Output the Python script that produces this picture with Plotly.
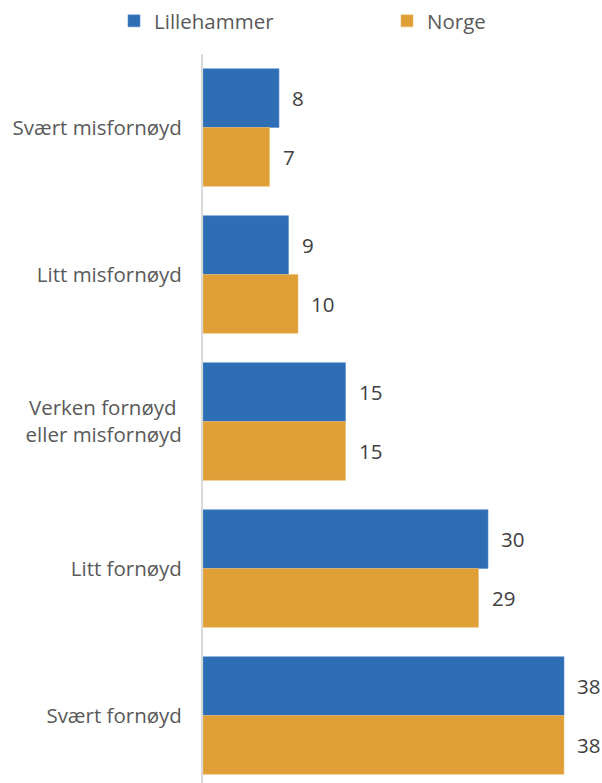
import plotly.graph_objects as go

categories = ["Svært misfornøyd", "Litt misfornøyd", "Verken fornøyd <br>eller misfornøyd",
              "Litt fornøyd", "Svært fornøyd"]
lillehammer = [8, 9, 15, 30, 38]
norge = [7, 10, 15, 29, 38]

BLUE = "#2E6EB5"
ORANGE = "#DF9F36"
FONT = "Open Sans"
FS = 20.5
W, H = 602, 783

fig = go.Figure()
fig.add_trace(go.Bar(y=categories, x=lillehammer, name="Lillehammer", orientation="h",
                     legend="legend",
                     marker=dict(color=BLUE, line=dict(color="#5b8fd0", width=0.6))))
fig.add_trace(go.Bar(y=categories, x=norge, name="Norge", orientation="h",
                     legend="legend2",
                     marker=dict(color=ORANGE, line=dict(color="#ebbd6e", width=0.6))))

# value labels to the right of each bar
band_px = 147
off = band_px * (1 - 0.2) / 4
for cat, a, b in zip(categories, lillehammer, norge):
    for val, ys in ((a, off), (b, -off)):
        fig.add_annotation(x=val, y=cat, text=str(val), showarrow=False,
                           xanchor="left", xshift=11, yshift=ys,
                           font=dict(family=FONT, size=FS, color="#404040"))

leg_font = dict(family=FONT, size=FS, color="#595959")
leg_common = dict(orientation="h", xref="container", yref="container",
                  yanchor="middle", y=1 - 21 / H, font=leg_font,
                  bgcolor="rgba(0,0,0,0)")

fig.update_layout(
    width=W, height=H,
    margin=dict(l=203, r=0, t=54, b=0, autoexpand=False),
    paper_bgcolor="white", plot_bgcolor="white",
    barmode="group", bargap=0.2, bargroupgap=0,
    font=dict(family=FONT, size=FS, color="#595959"),
    showlegend=True,
    legend=dict(x=114 / W, **leg_common),
    legend2=dict(x=387 / W, **leg_common),
    xaxis=dict(range=[0, 42], visible=False),
    yaxis=dict(categoryorder="array", categoryarray=categories,
               range=[-0.5 + 729 / 147, -0.5], showline=True, linecolor="#d9d9d9",
               linewidth=2, ticks="", ticklabelstandoff=15, showgrid=False,
               zeroline=False, tickfont=dict(family=FONT, size=FS, color="#595959")),
)

fig.write_html("out.html")
